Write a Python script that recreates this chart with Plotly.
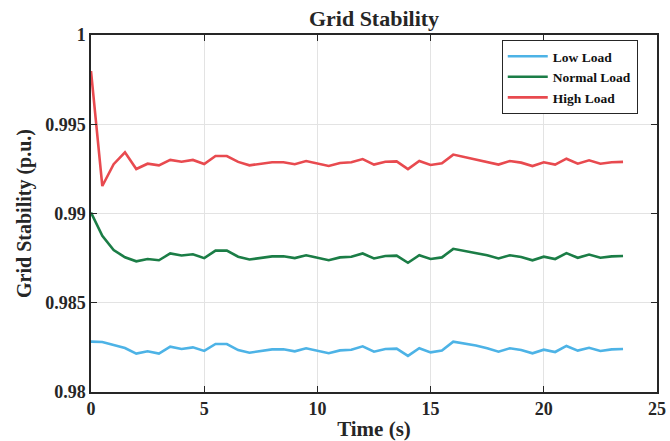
import plotly.graph_objects as go

time_s = [0.0, 0.5, 1.0, 1.5, 2.0, 2.5, 3.0, 3.5, 4.0, 4.5, 5.0, 5.5, 6.0, 6.5, 7.0, 7.5,
          8.0, 8.5, 9.0, 9.5, 10.0, 10.5, 11.0, 11.5, 12.0, 12.5, 13.0, 13.5, 14.0, 14.5, 15.0, 15.5,
          16.0, 16.5, 17.0, 17.5, 18.0, 18.5, 19.0, 19.5, 20.0, 20.5, 21.0, 21.5, 22.0, 22.5, 23.0, 23.5]

low_load = [0.98282, 0.98280, 0.98263, 0.98246, 0.98215, 0.98228, 0.98215, 0.98254,
            0.98241, 0.98250, 0.98230, 0.98269, 0.98269, 0.98235, 0.98220, 0.98230,
            0.98239, 0.98239, 0.98228, 0.98245, 0.98232, 0.98217, 0.98233, 0.98237,
            0.98256, 0.98226, 0.98241, 0.98243, 0.98202, 0.98245, 0.98222, 0.98233,
            0.98282, 0.98273, 0.98260, 0.98245, 0.98226, 0.98245, 0.98235, 0.98217,
            0.98237, 0.98224, 0.98258, 0.98232, 0.98248, 0.98230, 0.98239, 0.98241]

normal_load = [0.99005, 0.98875, 0.98795, 0.98755, 0.98732, 0.98745, 0.98738, 0.98776,
               0.98765, 0.98772, 0.98750, 0.98792, 0.98792, 0.98758, 0.98742, 0.98750,
               0.98760, 0.98760, 0.98750, 0.98766, 0.98752, 0.98738, 0.98754, 0.98758,
               0.98776, 0.98748, 0.98762, 0.98764, 0.98724, 0.98766, 0.98745, 0.98754,
               0.98802, 0.98790, 0.98780, 0.98766, 0.98748, 0.98766, 0.98756, 0.98738,
               0.98758, 0.98745, 0.98778, 0.98752, 0.98770, 0.98752, 0.98760, 0.98762]

high_load = [0.99798, 0.99154, 0.99276, 0.99343, 0.99249, 0.99279, 0.99270, 0.99300,
             0.99290, 0.99300, 0.99277, 0.99322, 0.99322, 0.99289, 0.99270, 0.99277,
             0.99287, 0.99287, 0.99276, 0.99294, 0.99281, 0.99266, 0.99283, 0.99287,
             0.99305, 0.99274, 0.99290, 0.99292, 0.99249, 0.99294, 0.99272, 0.99281,
             0.99330, 0.99315, 0.99304, 0.99289, 0.99274, 0.99294, 0.99285, 0.99266,
             0.99287, 0.99274, 0.99307, 0.99279, 0.99298, 0.99279, 0.99287, 0.99289]

x_ticks = [0, 5, 10, 15, 20, 25]
y_ticks = [0.98, 0.985, 0.99, 0.995, 1.0]

SERIF = "Times New Roman, Liberation Serif, serif"

fig = go.Figure()
fig.add_trace(go.Scatter(x=time_s, y=low_load, mode="lines", name="Low Load",
                         line=dict(color="#4DB3E6", width=2.6)))
fig.add_trace(go.Scatter(x=time_s, y=normal_load, mode="lines", name="Normal Load",
                         line=dict(color="#1B7D46", width=2.6)))
fig.add_trace(go.Scatter(x=time_s, y=high_load, mode="lines", name="High Load",
                         line=dict(color="#E84A4F", width=2.6)))

axis_common = dict(
    showline=True, linecolor="#262626", linewidth=1.5, mirror="ticks",
    ticks="inside", ticklen=6, tickcolor="#262626", tickwidth=1,
    showgrid=True, gridcolor="#E3E3E3", gridwidth=1, zeroline=False,
    automargin=False,
    tickfont=dict(family=SERIF, size=18, color="#262626", weight="bold"),
)

fig.update_layout(
    width=670, height=441,
    margin=dict(l=91, r=13, t=35, b=49),
    paper_bgcolor="white", plot_bgcolor="white",
    title=dict(text="<b>Grid Stability</b>", x=(91 + 657) / 2 / 670, xanchor="center",
               y=1 - 18 / 441, yanchor="middle",
               font=dict(family=SERIF, size=22, color="#262626")),
    xaxis=dict(range=[0, 25], tickvals=x_ticks, **axis_common,
               title=dict(text="<b>Time (s)</b>", standoff=6,
                          font=dict(family=SERIF, size=21, color="#262626"))),
    yaxis=dict(range=[0.98, 1.0], tickvals=y_ticks, **axis_common,
               title=dict(text="<b>Grid Stability (p.u.)</b>", standoff=8,
                          font=dict(family=SERIF, size=20, color="#262626"))),
    legend=dict(x=0.966, y=0.986, xanchor="right", yanchor="top",
                bgcolor="white", bordercolor="#262626", borderwidth=1,
                font=dict(family=SERIF, size=13.5, color="#111111", weight="bold"),
                tracegroupgap=0, itemwidth=40),
    showlegend=True,
)

fig.write_html("out.html")
